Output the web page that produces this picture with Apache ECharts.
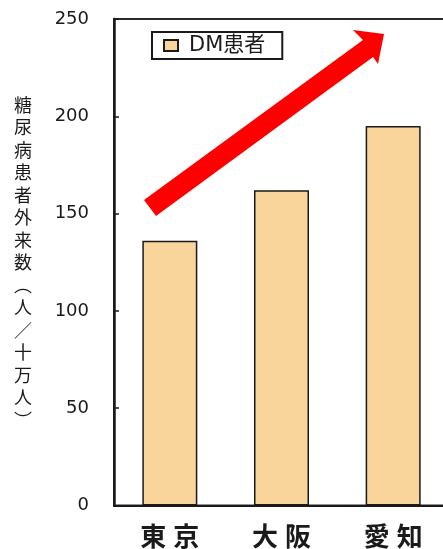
<!DOCTYPE html>
<html>
<head>
<meta charset="utf-8">
<style>
  html, body { margin: 0; padding: 0; background: #fff; }
  #chart { width: 443px; height: 549px; }
</style>
<script src="https://cdn.jsdelivr.net/npm/echarts@6/dist/echarts.min.js"></script>
</head>
<body>
<div id="chart"></div>
<script>
// Prefectures on the category axis
const prefectures = ['東京', '大阪', '愛知'];
// Diabetes outpatients per 100,000 people
const dmPatients = [136, 162, 195];
// Value axis range and step
const axisMin = 0;
const axisMax = 250;
const axisStep = 50;
const seriesName = 'DM患者';
const axisTitle = '糖尿病患者外来数︵人／十万人︶';

const BAR_FILL = '#F9D49B';
const INK = '#1a1a1a';
const CJK = '"Noto Sans CJK JP", "Noto Sans", sans-serif';

const chart = echarts.init(document.getElementById('chart'), null, { renderer: 'canvas' });

// Category labels are set with each character in its own fixed-width cell,
// which gives the widely spaced lettering under the bars.
const spacedChars = (label) => label.split('').map((ch) => '{c|' + ch + '}').join('');

chart.setOption({
  animation: false,
  backgroundColor: '#ffffff',
  grid: {
    left: 114,
    right: -6,
    top: 19,
    bottom: 43.5,
    outerBoundsMode: 'none',
    containLabel: false,
    show: true,
    borderColor: '#2a2a2a',
    borderWidth: 2,
    backgroundColor: '#ffffff'
  },
  legend: {
    data: [seriesName],
    left: 152,
    top: 32,
    orient: 'horizontal',
    padding: [3, 17, 3, 11],
    borderColor: INK,
    borderWidth: 2,
    borderRadius: 0,
    backgroundColor: '#ffffff',
    itemWidth: 14,
    itemHeight: 11,
    icon: 'rect',
    textStyle: {
      fontSize: 21,
      color: INK,
      fontFamily: '"DejaVu Sans", ' + CJK,
      padding: [0, 0, 0, 6]
    }
  },
  xAxis: {
    type: 'category',
    data: prefectures,
    axisLine: { show: true, lineStyle: { color: INK, width: 2 } },
    axisTick: { show: false },
    axisLabel: {
      interval: 0,
      hideOverlap: false,
      margin: 18,
      fontSize: 26,
      fontWeight: 'bold',
      color: INK,
      fontFamily: CJK,
      formatter: spacedChars,
      rich: {
        c: {
          width: 33,
          align: 'center',
          fontSize: 26,
          fontWeight: 'bold',
          color: INK,
          fontFamily: CJK
        }
      }
    }
  },
  yAxis: {
    type: 'value',
    min: axisMin,
    max: axisMax,
    interval: axisStep,
    name: axisTitle.split('').join('\n'),
    nameLocation: 'middle',
    nameRotate: 0,
    nameGap: 91,
    nameTextStyle: {
      fontSize: 18,
      lineHeight: 22.5,
      color: INK,
      fontFamily: CJK,
      align: 'center',
      verticalAlign: 'middle'
    },
    axisLine: { show: true, lineStyle: { color: INK, width: 2.5 } },
    axisTick: { show: true, inside: true, length: 5, lineStyle: { color: INK, width: 1.5 } },
    splitLine: { show: false },
    axisLabel: {
      margin: 25,
      fontSize: 18,
      color: INK,
      fontFamily: '"DejaVu Sans", sans-serif'
    }
  },
  series: [{
    name: seriesName,
    type: 'bar',
    data: dmPatients,
    barWidth: 55,
    itemStyle: {
      color: BAR_FILL,
      borderColor: INK,
      borderWidth: 1.5
    }
  }],
  graphic: [{
    // Rising-trend arrow across the plot
    type: 'polygon',
    z: 100,
    shape: {
      points: [
        [144, 200], [363, 40], [353, 30], [384, 34],
        [378, 64], [373, 57], [156, 216]
      ]
    },
    style: { fill: '#ff0000' }
  }]
});
</script>
</body>
</html>
